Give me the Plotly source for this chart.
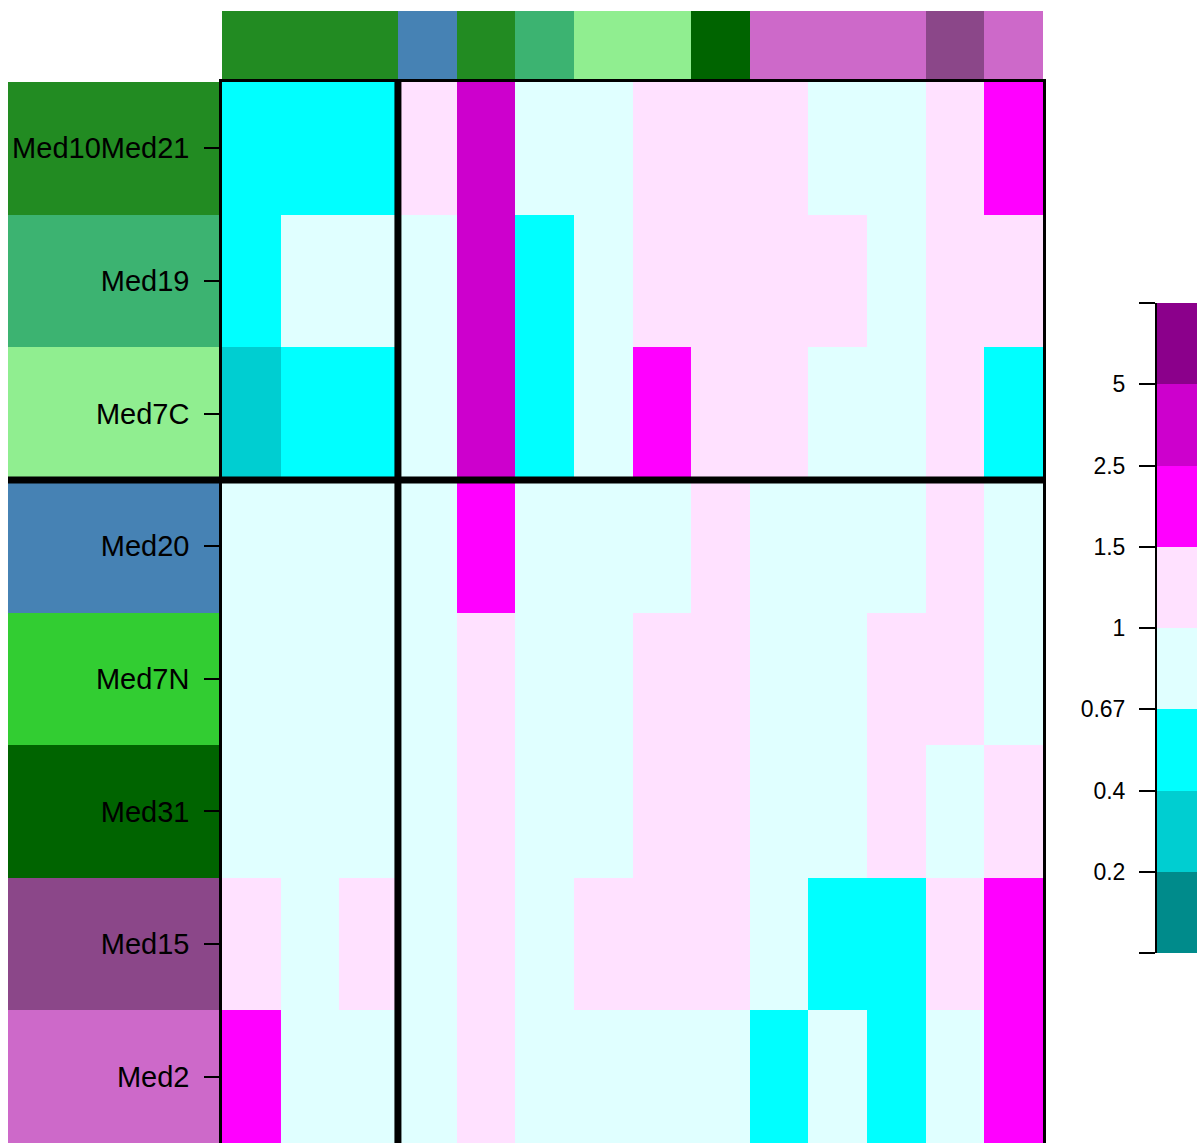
import plotly.graph_objects as go

# ---------------- data ----------------
row_labels = ["Med10Med21", "Med19", "Med7C", "Med20", "Med7N", "Med31", "Med15", "Med2"]
col_groups = ["Med10Med21", "Med10Med21", "Med10Med21", "Med20", "Med10Med21", "Med19",
              "Med7C", "Med7C", "Med31", "Med2", "Med2", "Med2", "Med15", "Med2"]
group_names = ["Med10Med21", "Med19", "Med7C", "Med20", "Med7N", "Med31", "Med15", "Med2"]
group_colors = ["#228B22", "#3CB371", "#90EE90", "#4682B4", "#32CD32", "#006400", "#8B4789", "#CD69C9"]

# level index per cell (bins of the legend: <0.2, 0.2-0.4, 0.4-0.67, 0.67-1, 1-1.5, 1.5-2.5, 2.5-5, >5)
levels = [
    [2, 2, 2, 4, 6, 3, 3, 4, 4, 4, 3, 3, 4, 5],
    [2, 3, 3, 3, 6, 2, 3, 4, 4, 4, 4, 3, 4, 4],
    [1, 2, 2, 3, 6, 2, 3, 5, 4, 4, 3, 3, 4, 2],
    [3, 3, 3, 3, 5, 3, 3, 3, 4, 3, 3, 3, 4, 3],
    [3, 3, 3, 3, 4, 3, 3, 4, 4, 3, 3, 4, 4, 3],
    [3, 3, 3, 3, 4, 3, 3, 4, 4, 3, 3, 4, 3, 4],
    [4, 3, 4, 3, 4, 3, 4, 4, 4, 3, 2, 2, 4, 5],
    [5, 3, 3, 3, 4, 3, 3, 3, 3, 2, 3, 2, 3, 5],
]
legend_breaks = ["0.2", "0.4", "0.67", "1", "1.5", "2.5", "5"]
palette = ["#008B8B", "#00CED1", "#00FFFF", "#E0FFFF", "#FFE1FF", "#FF00FF", "#CD00CD", "#8B008B"]
row_split = 3   # number of rows above the horizontal divider
col_split = 3   # number of columns left of the vertical divider

# ---------------- layout geometry ----------------
W, H = 1197, 1143


def px_x(p):
    return p / W


def px_y(p):
    return 1 - p / H


main_x = [px_x(222), px_x(1043)]
main_y = [0.0, px_y(82)]
top_y = [px_y(82), px_y(11)]
lab_x = [px_x(8), px_x(222)]
leg_x = [px_x(1157), 1.0]
leg_y = [px_y(953), px_y(303)]

FONT = "Liberation Sans, Arial, sans-serif"


def discrete(colors):
    n = len(colors)
    cs = []
    for i, c in enumerate(colors):
        cs.append([i / n, c])
        cs.append([(i + 1) / n, c])
    return cs


n_rows, n_cols = len(row_labels), len(col_groups)
gcs = discrete(group_colors)
pcs = discrete(palette)

fig = go.Figure()

# 1) row label colour column
fig.add_trace(go.Heatmap(
    x=[0], y=list(range(n_rows)),
    z=[[group_names.index(r)] for r in row_labels],
    colorscale=gcs, zmin=-0.5, zmax=len(group_names) - 0.5,
    showscale=False, hoverinfo="skip", xaxis="x", yaxis="y"))

# 2) top column annotation bar
fig.add_trace(go.Heatmap(
    x=list(range(n_cols)), y=[0],
    z=[[group_names.index(g) for g in col_groups]],
    colorscale=gcs, zmin=-0.5, zmax=len(group_names) - 0.5,
    showscale=False, hoverinfo="skip", xaxis="x2", yaxis="y2"))

# 3) main heatmap
fig.add_trace(go.Heatmap(
    x=list(range(n_cols)), y=list(range(n_rows)), z=levels,
    colorscale=pcs, zmin=-0.5, zmax=len(palette) - 0.5,
    showscale=False, xaxis="x3", yaxis="y3"))

# 4) legend colour key
fig.add_trace(go.Heatmap(
    x=[0], y=[i + 0.5 for i in range(len(palette))],
    z=[[i] for i in range(len(palette))],
    colorscale=pcs, zmin=-0.5, zmax=len(palette) - 0.5,
    showscale=False, hoverinfo="skip", xaxis="x4", yaxis="y4"))

hidden = dict(visible=False, showgrid=False, zeroline=False)

fig.update_layout(
    width=W, height=H,
    margin=dict(l=0, r=0, t=0, b=0),
    paper_bgcolor="white", plot_bgcolor="white",
    font=dict(family=FONT, color="black"),
    xaxis=dict(domain=lab_x, range=[-0.5, 0.5], **hidden),
    yaxis=dict(domain=main_y, range=[n_rows - 0.5, -0.5], **hidden),
    xaxis2=dict(domain=main_x, range=[-0.5, n_cols - 0.5], anchor="y2", **hidden),
    yaxis2=dict(domain=top_y, range=[-0.5, 0.5], anchor="x2", **hidden),
    xaxis3=dict(domain=main_x, range=[-0.5, n_cols - 0.5], anchor="y3", side="top",
                showgrid=False, zeroline=False, showticklabels=False, ticks="",
                showline=True, linecolor="black", linewidth=2.5),
    yaxis3=dict(domain=main_y, range=[n_rows - 0.5, -0.5], anchor="x3",
                showgrid=False, zeroline=False,
                tickmode="array", tickvals=list(range(n_rows)), ticktext=row_labels,
                ticks="outside", ticklen=15, tickwidth=2, tickcolor="black",
                tickfont=dict(size=29, family=FONT, color="black"),
                ticklabelstandoff=9,
                showline=True, mirror=True, linecolor="black", linewidth=2.5),
    xaxis4=dict(domain=leg_x, range=[-0.5, 0.5], anchor="y4", **hidden),
    yaxis4=dict(domain=leg_y, range=[0, len(palette)], anchor="x4", side="left",
                showgrid=False, zeroline=False,
                tickmode="array", tickvals=list(range(len(palette) + 1)),
                ticktext=[""] + legend_breaks + [""],
                ticks="outside", ticklen=16, tickwidth=2, tickcolor="black",
                tickfont=dict(size=23, family=FONT, color="black"),
                ticklabelstandoff=9,
                showline=True, linecolor="black", linewidth=2),
)

# thick split lines
fig.add_shape(type="line", xref="x3", yref="y3 domain",
              x0=col_split - 0.5, x1=col_split - 0.5, y0=0, y1=1,
              line=dict(color="black", width=7), layer="above")
fig.add_shape(type="line", xref="paper", yref="y3",
              x0=lab_x[0], x1=main_x[1], y0=row_split - 0.5, y1=row_split - 0.5,
              line=dict(color="black", width=7), layer="above")

fig.write_html("out.html",
               config={"displayModeBar": False},
               post_script="document.body.style.margin='0';document.body.style.overflow='hidden';")
